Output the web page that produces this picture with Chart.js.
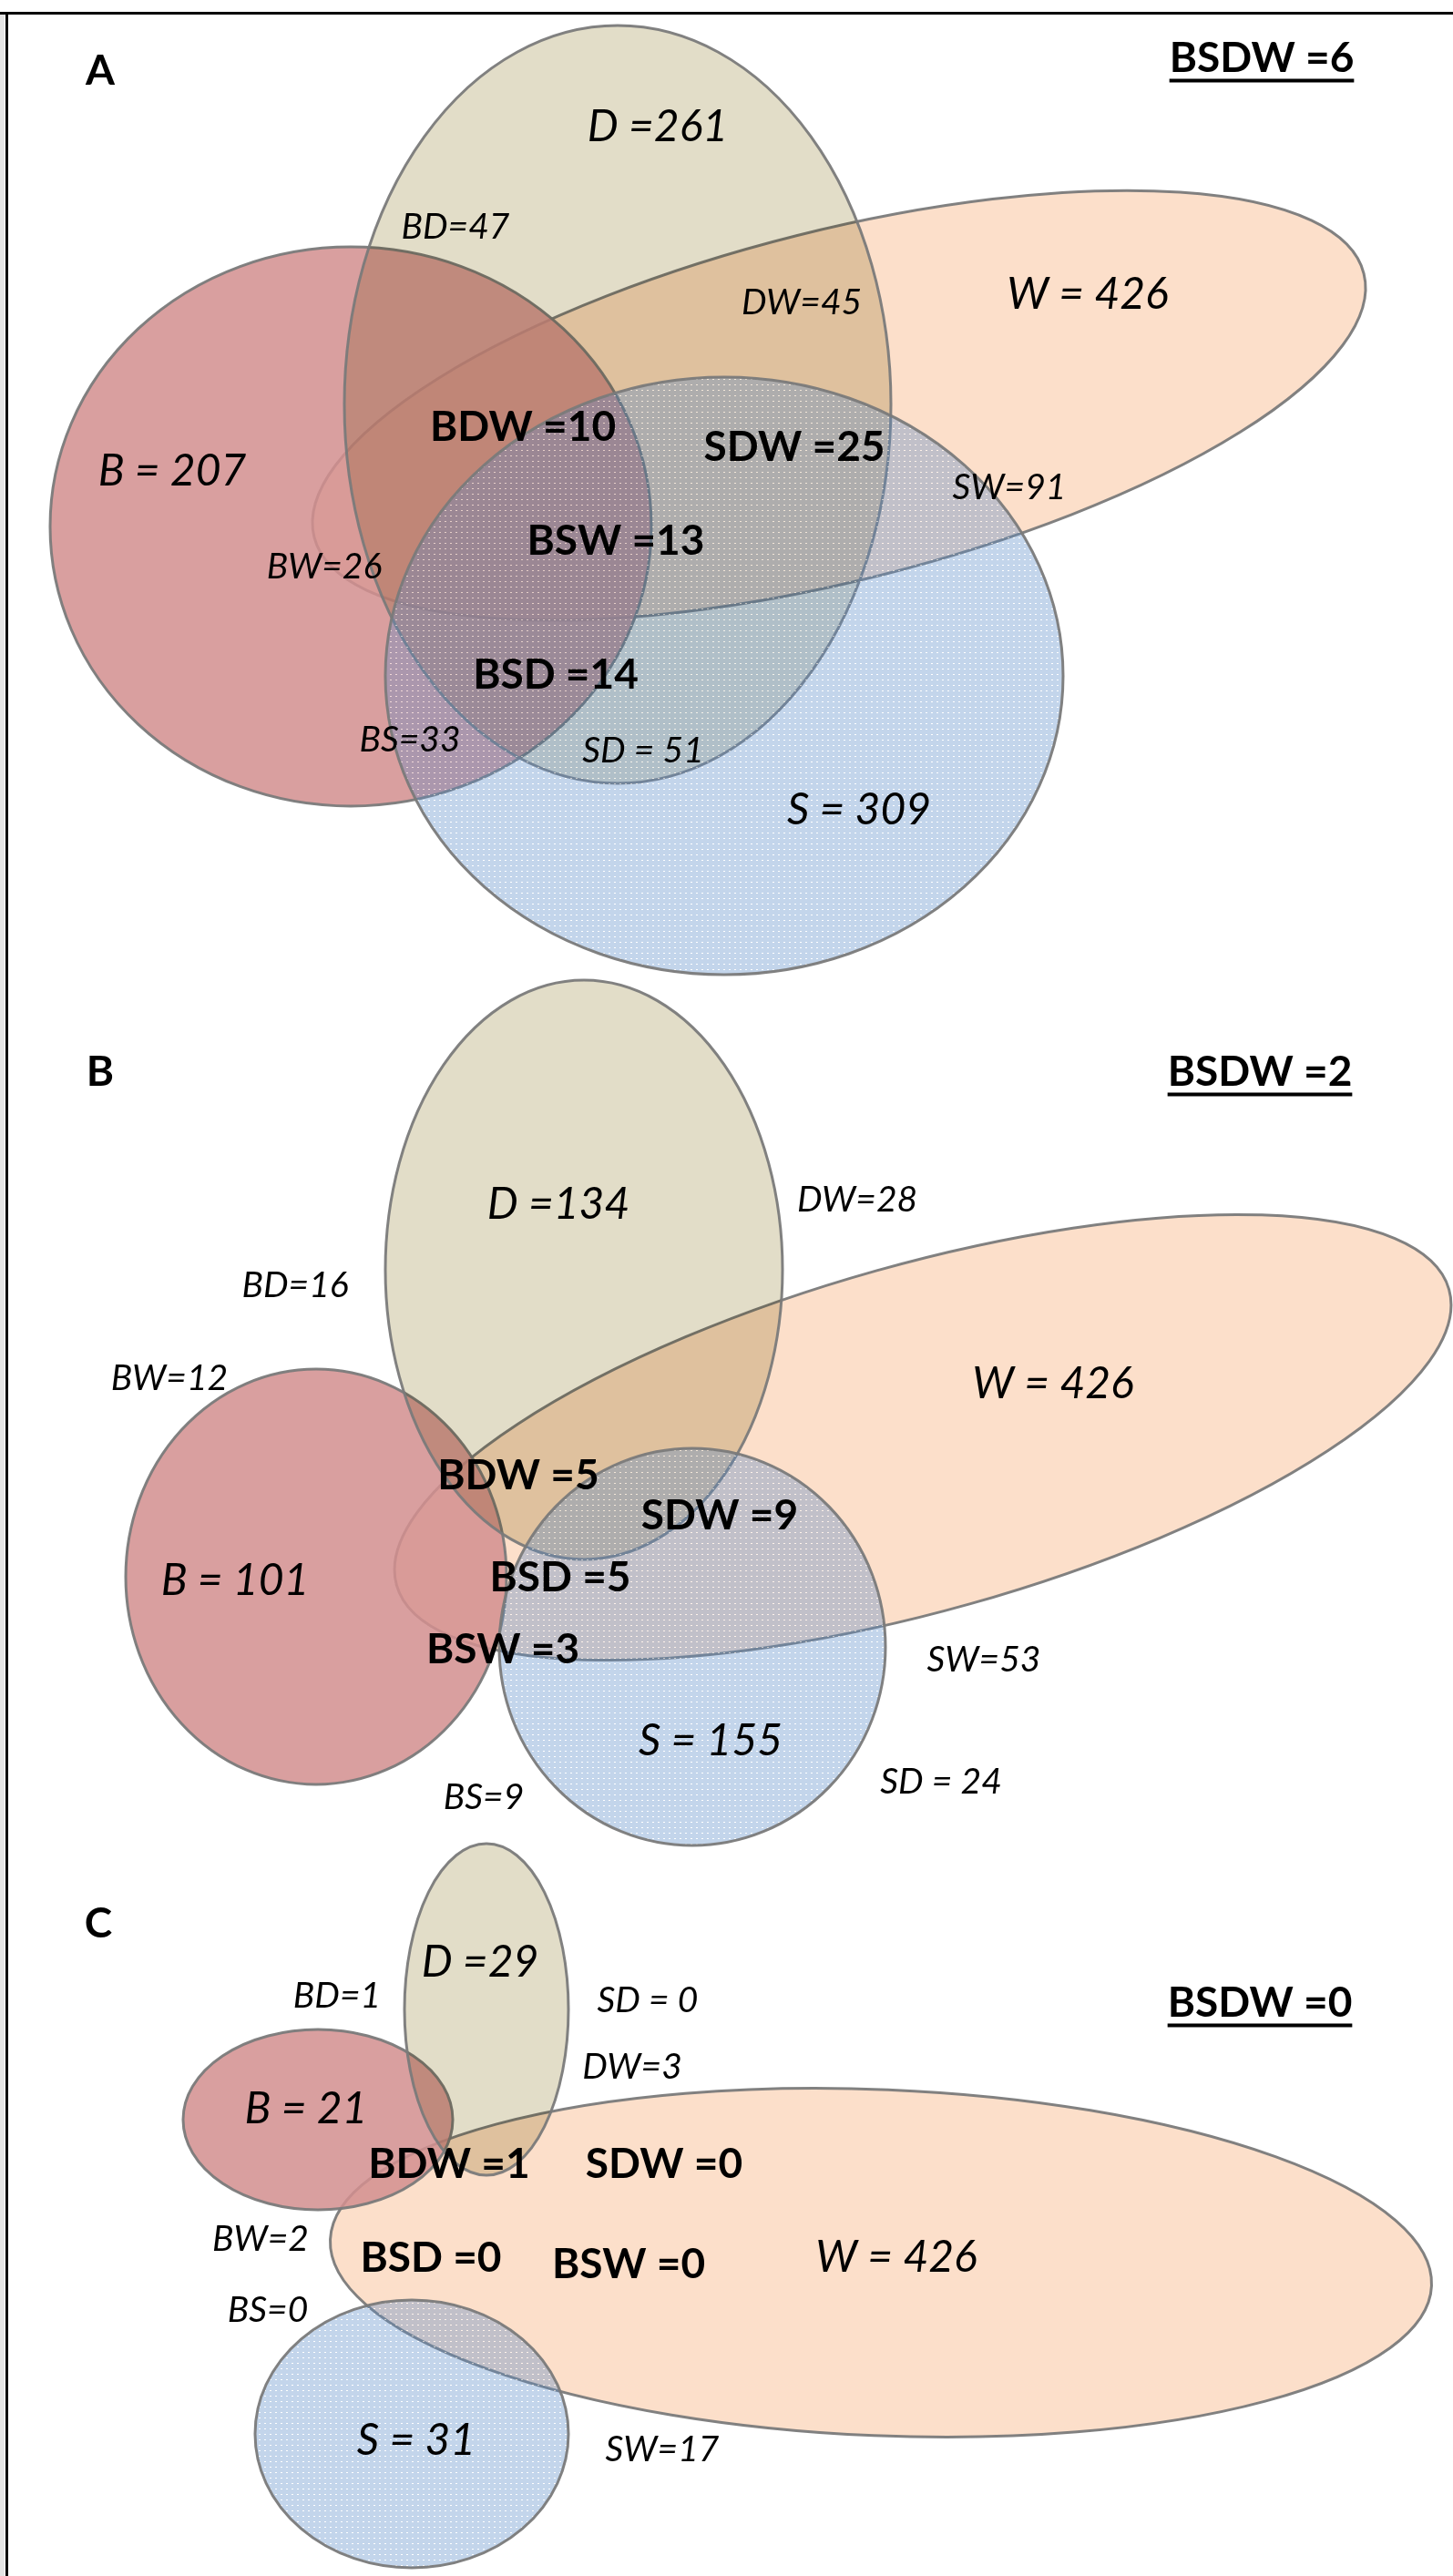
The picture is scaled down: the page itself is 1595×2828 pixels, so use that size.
<!DOCTYPE html>
<html>
<head>
<meta charset="utf-8">
<script src="https://cdn.jsdelivr.net/npm/chart.js@4"></script>
<style>
  html, body { margin: 0; padding: 0; background: #fff; }
  canvas { display: block; }
</style>
</head>
<body>
<canvas id="venn" width="1595" height="2828"></canvas>
<script>
// Panels and their overlap counts (B, S, D, W sets)
const panels = ['A', 'B', 'C'];
const setW = [426, 426, 426];
const setD = [261, 134, 29];
const setB = [207, 101, 21];
const setS = [309, 155, 31];
const pairBD = [47, 16, 1];
const pairBW = [26, 12, 2];
const pairBS = [33, 9, 0];
const pairDW = [45, 28, 3];
const pairSD = [51, 24, 0];
const pairSW = [91, 53, 17];
const tripleBDW = [10, 5, 1];
const tripleSDW = [25, 9, 0];
const tripleBSW = [13, 3, 0];
const tripleBSD = [14, 5, 0];
const quadBSDW = [6, 2, 0];

// lookup built from the arrays above
const counts = {
    W: setW, D: setD, B: setB, S: setS,
    BD: pairBD, BW: pairBW, BS: pairBS, DW: pairDW, SD: pairSD, SW: pairSW,
    BDW: tripleBDW, SDW: tripleSDW, BSW: tripleBSW, BSD: tripleBSD, BSDW: quadBSDW
};
// how each label is written in the figure
const sep = {
    D: ' =', W: ' = ', B: ' = ', S: ' = ', SD: ' = ',
    BD: '=', BW: '=', BS: '=', DW: '=', SW: '=',
    BDW: ' =', SDW: ' =', BSW: ' =', BSD: ' =', BSDW: ' ='
};

// ---- layout (pixel units of the figure) ----
// shapes drawn in this order inside each panel
const shapeOrder = ['W', 'B', 'D', 'S'];
const shapeGeom = [
    // panel A
    [{x: 921, y: 445, rx: 594, ry: 192, rot: -14.1}, {x: 385, y: 578, rx: 330, ry: 307, rot: 0},
     {x: 678, y: 444, rx: 300, ry: 416, rot: 0}, {x: 795, y: 742, rx: 372, ry: 328, rot: 0}],
    // panel B
    [{x: 1013, y: 1578, rx: 600, ry: 190, rot: -15.7}, {x: 347, y: 1731, rx: 209, ry: 228, rot: 0},
     {x: 641, y: 1394, rx: 218, ry: 318, rot: 0}, {x: 760, y: 1808, rx: 212, ry: 218, rot: 0}],
    // panel C
    [{x: 967, y: 2484, rx: 605, ry: 190, rot: 2.4}, {x: 349, y: 2327, rx: 148, ry: 99, rot: 0},
     {x: 534, y: 2206, rx: 90, ry: 182, rot: 0}, {x: 452, y: 2672, rx: 172, ry: 147, rot: 0}]
];
const letterPos = [[110, 77], [110, 1176], [108, 2111]];
const labelPos = [
    {D: [722, 138], BD: [500, 248], DW: [880, 331], W: [1194, 322], B: [189, 516], BDW: [574, 468],
     SDW: [872, 490], SW: [1108, 534], BSW: [676, 593], BW: [356, 621], BSD: [610, 740], BS: [450, 811],
     SD: [706, 823], S: [943, 888], BSDW: [1385, 63]},
    {D: [613, 1321], BD: [324, 1410], BW: [186, 1512], DW: [941, 1316], W: [1156, 1518], BDW: [569, 1619],
     SDW: [790, 1663], B: [258, 1734], BSD: [615, 1731], BSW: [552, 1810], SW: [1080, 1821], S: [780, 1910],
     SD: [1033, 1955], BS: [531, 1972], BSDW: [1383, 1176]},
    {D: [527, 2153], BD: [370, 2190], SD: [711, 2195], DW: [694, 2268], B: [336, 2314], BDW: [493, 2375],
     SDW: [729, 2375], BW: [286, 2457], BSD: [473, 2478], BSW: [690, 2485], W: [984, 2477], BS: [294, 2535],
     S: [457, 2678], SW: [727, 2688], BSDW: [1383, 2198]}
];

// fill and how it combines with what lies below
const fillColors = {W: '#FCDFCA', B: 'rgba(211,143,143,0.86)', D: '#E2DDC8', S: 'rgba(89,138,200,0.36)'};
const blendModes = {W: 'source-over', B: 'source-over', D: 'multiply', S: 'source-over'};

// dotted texture for S
function dotPattern(ctx, color) {
    const tile = document.createElement('canvas');
    tile.width = 6; tile.height = 6;
    const t = tile.getContext('2d');
    t.fillStyle = color;
    t.fillRect(0, 0, 6, 6);
    t.clearRect(2, 2, 2, 1);
    t.fillStyle = 'rgba(255,255,255,0.6)';
    t.fillRect(2, 2, 2, 1);
    return ctx.createPattern(tile, 'repeat');
}

// Build datasets
let shapePoints = [];
shapeGeom.forEach((list, p) => {
    list.forEach((g, i) => {
        shapePoints.push({x: g.x, y: g.y, rx: g.rx, ry: g.ry, rot: g.rot, set: shapeOrder[i]});
    });
});

let labelPoints = [];
panels.forEach((name, p) => {
    labelPoints.push({x: letterPos[p][0], y: letterPos[p][1], text: name, kind: 'letter'});
    Object.keys(labelPos[p]).forEach(key => {
        let pos = labelPos[p][key];
        let kind = key.length === 1 ? 'single' : key.length === 2 ? 'pair' : key.length === 3 ? 'triple' : 'quad';
        labelPoints.push({x: pos[0], y: pos[1], text: key + sep[key] + counts[key][p], kind: kind});
    });
});

const fontSize = {letter: 46, single: 48, pair: 39, triple: 46, quad: 46};
const fontStyle = {letter: 'bold', single: 'italic', pair: 'italic', triple: 'bold', quad: 'bold'};
const capRatio = 0.717;

const vennPlugin = {
    id: 'venn',
    beforeDraw(chart) {
        const ctx = chart.ctx;
        ctx.save();
        ctx.fillStyle = '#ffffff';
        ctx.fillRect(0, 0, chart.width, chart.height);
        ctx.restore();
    },
    afterDatasetsDraw(chart) {
        const {ctx, scales: {x, y}} = chart;
        const shapes = chart.getDatasetMeta(0);
        const sPattern = dotPattern(ctx, fillColors.S);

        shapes.data.forEach((el, i) => {
            const s = shapePoints[i];
            const rx = Math.abs(x.getPixelForValue(s.x + s.rx) - el.x);
            const ry = Math.abs(y.getPixelForValue(s.y + s.ry) - el.y);
            ctx.save();
            ctx.beginPath();
            ctx.ellipse(el.x, el.y, rx, ry, s.rot * Math.PI / 180, 0, Math.PI * 2);
            ctx.globalCompositeOperation = blendModes[s.set];
            ctx.fillStyle = s.set === 'S' ? sPattern : fillColors[s.set];
            ctx.fill();
            ctx.globalCompositeOperation = 'source-over';
            ctx.lineWidth = 3;
            ctx.strokeStyle = 'rgba(122,122,122,0.95)';
            ctx.stroke();
            ctx.restore();
        });

        // labels
        const labels = chart.getDatasetMeta(1);
        labels.data.forEach((el, i) => {
            const l = labelPoints[i];
            const size = fontSize[l.kind];
            ctx.save();
            ctx.font = fontStyle[l.kind] + ' ' + size + 'px Lato';
            ctx.fillStyle = '#000';
            ctx.textAlign = 'center';
            ctx.textBaseline = 'alphabetic';
            const base = el.y + size * capRatio / 2;
            ctx.fillText(l.text, el.x, base);
            if (l.kind === 'quad') {
                const w = ctx.measureText(l.text).width;
                ctx.fillRect(el.x - w / 2, base + 7, w, 4);
            }
            ctx.restore();
        });

        // frame of the figure
        ctx.save();
        ctx.fillStyle = '#e4e4e4';
        ctx.fillRect(0, 15, 5, chart.height);
        ctx.fillStyle = '#000';
        ctx.fillRect(0, 13, chart.width, 3);
        ctx.fillRect(6, 13, 3, chart.height);
        ctx.restore();
    }
};

new Chart(document.getElementById('venn'), {
    type: 'scatter',
    data: {
        datasets: [
            {label: 'sets', data: shapePoints, pointRadius: 0, showLine: false},
            {label: 'counts', data: labelPoints, pointRadius: 0, showLine: false}
        ]
    },
    options: {
        responsive: false,
        animation: false,
        devicePixelRatio: 1,
        layout: {padding: 0},
        events: [],
        plugins: {legend: {display: false}, tooltip: {enabled: false}},
        scales: {
            x: {type: 'linear', min: 0, max: 1595, display: false},
            y: {type: 'linear', min: 0, max: 2828, reverse: true, display: false}
        }
    },
    plugins: [vennPlugin]
});
</script>
</body>
</html>
